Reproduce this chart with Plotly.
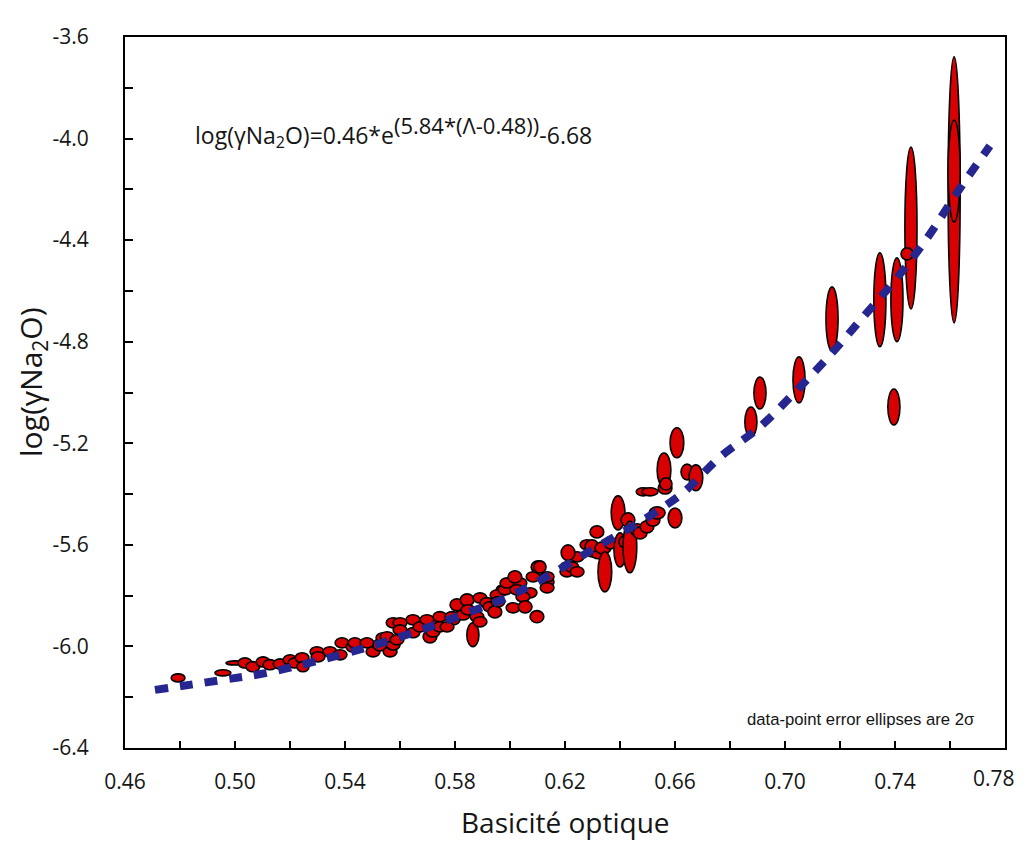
import plotly.graph_objects as go

# ---- data: ellipse centres (optical basicity, log gamma Na2O) and 2-sigma half extents
bas = [0.6036, 0.6073, 0.5953, 0.5975, 0.5829, 0.5793, 0.5709, 0.6207, 0.6244, 0.6280, 0.6302,
       0.4793, 0.4956, 0.5000, 0.5036, 0.5065, 0.5102, 0.5127, 0.5164, 0.5200, 0.5218,
       0.5244, 0.5247, 0.5298, 0.5302, 0.5345, 0.5382, 0.5389, 0.5429, 0.5436, 0.5480,
       0.5502, 0.5527, 0.5538, 0.5564, 0.5575, 0.5553, 0.5589, 0.5575, 0.5600, 0.5600,
       0.5647, 0.5647, 0.5673, 0.5698, 0.5709, 0.5720, 0.5745, 0.5745, 0.5771, 0.5789,
       0.5807, 0.5829, 0.5844, 0.5847, 0.5865, 0.5880, 0.5891, 0.5891, 0.5916, 0.5927,
       0.5945, 0.5953, 0.5956, 0.5982, 0.5989, 0.6011, 0.6018, 0.6025, 0.6047, 0.6055,
       0.6084, 0.6098, 0.6102, 0.6109, 0.6135, 0.6135, 0.6135, 0.6207, 0.6211, 0.6225,
       0.6244, 0.6298, 0.6316, 0.6320, 0.6338, 0.6345, 0.6364, 0.6393, 0.6400, 0.6418,
       0.6429, 0.6436, 0.6462, 0.6473, 0.6484, 0.6498, 0.6509, 0.6520, 0.6535, 0.6560,
       0.6564, 0.6567, 0.6600, 0.6607, 0.6644, 0.6676, 0.6876, 0.6909, 0.7051, 0.7171,
       0.7345, 0.7407, 0.7396, 0.7458, 0.7444, 0.7615, 0.7615]
lg = [-5.750, -5.789, -5.824, -5.777, -5.856, -5.895, -5.907, -5.687, -5.647, -5.600, -5.628,
      -6.124, -6.104, -6.065, -6.065, -6.080, -6.061, -6.072, -6.069, -6.053, -6.065,
      -6.045, -6.080, -6.021, -6.041, -6.021, -6.033, -5.986, -6.002, -5.986, -5.986,
      -6.021, -5.994, -5.966, -6.021, -5.994, -5.962, -5.974, -5.907, -5.907, -5.935,
      -5.895, -5.946, -5.923, -5.895, -5.962, -5.943, -5.883, -5.923, -5.923, -5.883,
      -5.836, -5.876, -5.817, -5.856, -5.954, -5.883, -5.809, -5.903, -5.828, -5.844,
      -5.864, -5.797, -5.824, -5.777, -5.750, -5.848, -5.726, -5.777, -5.805, -5.844,
      -5.726, -5.883, -5.687, -5.687, -5.746, -5.726, -5.769, -5.706, -5.631, -5.687,
      -5.706, -5.608, -5.549, -5.639, -5.612, -5.706, -5.592, -5.474, -5.620, -5.588,
      -5.502, -5.608, -5.541, -5.553, -5.391, -5.529, -5.391, -5.502, -5.474, -5.305,
      -5.376, -5.360, -5.494, -5.198, -5.313, -5.336, -5.116, -5.002, -4.950, -4.710,
      -4.635, -4.635, -5.057, -4.352, -4.454, -4.202, -4.128]
err_bas = [0.0025] * 11 + [0.0025, 0.0029, 0.0033] + [0.0025] * 8 + [0.0022] + [0.0025] * 32 \
          + [0.0022] + [0.0025] * 18 + [0.0022] + [0.0025] * 9 + [0.0022, 0.0029, 0.0025,
          0.0022, 0.0025, 0.0022, 0.0022, 0.0025, 0.0025, 0.0025, 0.0025, 0.0025, 0.0025,
          0.0029, 0.0025, 0.0029, 0.0025, 0.0025, 0.0022, 0.0025, 0.0025, 0.0022, 0.0025,
          0.0022, 0.0022, 0.0022, 0.0022, 0.0022, 0.0022, 0.0022, 0.0022, 0.0022, 0.0022,
          0.0022, 0.0022, 0.0022, 0.0025]
err_lg = [0.020] * 11 + [
          0.016, 0.012, 0.008, 0.020, 0.020, 0.020, 0.020, 0.020, 0.020, 0.020,
          0.020, 0.020, 0.020, 0.020, 0.020, 0.020, 0.020, 0.020, 0.020, 0.020,
          0.020, 0.024, 0.020, 0.020, 0.020, 0.020, 0.020, 0.020, 0.020, 0.020,
          0.020, 0.020, 0.020, 0.020, 0.024, 0.020, 0.020, 0.020, 0.020, 0.020,
          0.024, 0.020, 0.024, 0.020, 0.047, 0.020, 0.020, 0.020, 0.020, 0.020,
          0.024, 0.020, 0.020, 0.020, 0.020, 0.020, 0.024, 0.020, 0.020, 0.024,
          0.020, 0.024, 0.024, 0.024, 0.020, 0.020, 0.020, 0.020, 0.031, 0.020,
          0.020, 0.028, 0.024, 0.016, 0.024, 0.079, 0.024, 0.067, 0.067, 0.024,
          0.028, 0.102, 0.024, 0.024, 0.016, 0.024, 0.016, 0.024, 0.024, 0.067,
          0.024, 0.024, 0.039, 0.059, 0.031, 0.051, 0.059, 0.063, 0.091, 0.126,
          0.185, 0.165, 0.071, 0.319, 0.024, 0.524, 0.201]

# ---- fitted curve
fit_bas = [0.4709, 0.4935, 0.5116, 0.5298, 0.5473, 0.5647, 0.5825, 0.5993, 0.6164, 0.6316,
           0.6484, 0.6629, 0.6764, 0.6909, 0.7044, 0.7171, 0.7291, 0.7407, 0.7520, 0.7625, 0.7745]
fit_lg = [-6.171, -6.135, -6.104, -6.057, -6.006, -5.946, -5.876, -5.805, -5.706, -5.608,
          -5.502, -5.395, -5.254, -5.135, -4.990, -4.844, -4.694, -4.549, -4.387, -4.214, -4.029]

x_tick_vals = [0.46, 0.50, 0.54, 0.58, 0.62, 0.66, 0.70, 0.74, 0.78]
x_tick_labels = ["0.46", "0.50", "0.54", "0.58", "0.62", "0.66", "0.70", "0.74", "0.78"]
y_tick_vals = [-6.4, -6.0, -5.6, -5.2, -4.8, -4.4, -4.0, -3.6]
y_tick_labels = ["-6.4", "-6.0", "-5.6", "-5.2", "-4.8", "-4.4", "-4.0", "-3.6"]

FONT = "Open Sans"
RED = "#d80000"
BLUE = "#25268f"
INK = "#151515"

fig = go.Figure()

shapes = []
for xc, yc, ex, ey in zip(bas, lg, err_bas, err_lg):
    shapes.append(dict(type="circle", xref="x", yref="y",
                       x0=xc - ex, x1=xc + ex, y0=yc - ey, y1=yc + ey,
                       fillcolor=RED, line=dict(color="black", width=1.6),
                       layer="below"))

fig.add_trace(go.Scatter(x=fit_bas, y=fit_lg, mode="lines",
                         line=dict(color=BLUE, width=8, dash="13px,12px", shape="spline"),
                         hoverinfo="skip", showlegend=False))

# The last x label sits on the figure's right edge, so it is drawn as an
# annotation kept inside the figure; the axis shows the others.
axis_x_text = x_tick_labels[:-1] + [""]

# The page body keeps its default 8px margin: the figure sits at (8, 8) and the
# page is exactly 1027x850.
fig.update_layout(
    width=1011, height=834,
    margin=dict(l=117, r=14, t=29, b=94),
    paper_bgcolor="white", plot_bgcolor="white",
    shapes=shapes,
    showlegend=False,
    font=dict(family=FONT, color=INK),
    annotations=[
        dict(text="log(γNa<sub>2</sub>O)=0.46*e<sup><span style='font-size:22px'>(5.84*(Λ-0.48))</span></sup>-6.68",
             xref="paper", yref="paper", x=(193 - 125) / 880, y=(748 - 132) / 711,
             xanchor="left", yanchor="middle", showarrow=False,
             font=dict(family=FONT, size=23, color=INK)),
        dict(text="data-point error ellipses are 2σ",
             xref="paper", yref="paper", x=(861 - 125) / 880, y=(748 - 719) / 711,
             xanchor="center", yanchor="middle", showarrow=False,
             font=dict(family="Liberation Sans", size=16.7, color=INK)),
        dict(text="log(γNa<sub>2</sub>O)", textangle=-90,
             xref="paper", yref="paper", x=0, y=(748 - 382) / 711, xshift=-93,
             xanchor="center", yanchor="middle", showarrow=False,
             font=dict(family=FONT, size=30, color=INK)),
        dict(text="Basicité optique",
             xref="paper", yref="paper", x=0.5, y=0, yshift=-74,
             xanchor="center", yanchor="middle", showarrow=False,
             font=dict(family=FONT, size=28, color=INK)),
        dict(text=x_tick_labels[-1],
             xref="paper", yref="paper", x=1, y=0, xshift=12, yshift=-30,
             xanchor="right", yanchor="middle", showarrow=False,
             font=dict(family=FONT, size=21, color=INK)),
    ],
)

fig.update_xaxes(range=[0.46, 0.78], tickvals=x_tick_vals, ticktext=axis_x_text,
                 ticks="inside", ticklen=7, tickwidth=1.5, tickcolor="black",
                 minor=dict(dtick=0.02, tick0=0.46, ticks="inside", ticklen=7,
                            tickwidth=1.5, tickcolor="black"),
                 showline=True, linecolor="black", linewidth=2, mirror=True,
                 showgrid=False, zeroline=False, ticklabelstandoff=14,
                 tickfont=dict(family=FONT, size=21, color=INK))
fig.update_yaxes(range=[-6.4, -3.6], tickvals=y_tick_vals, ticktext=y_tick_labels,
                 ticks="inside", ticklen=8, tickwidth=1.5, tickcolor="black",
                 minor=dict(dtick=0.2, tick0=-6.4, ticks="inside", ticklen=8,
                            tickwidth=1.5, tickcolor="black"),
                 showline=True, linecolor="black", linewidth=2, mirror=True,
                 showgrid=False, zeroline=False, ticklabelstandoff=30,
                 tickfont=dict(family=FONT, size=21, color=INK))

fig.write_html("out.html", config={"displayModeBar": False})
